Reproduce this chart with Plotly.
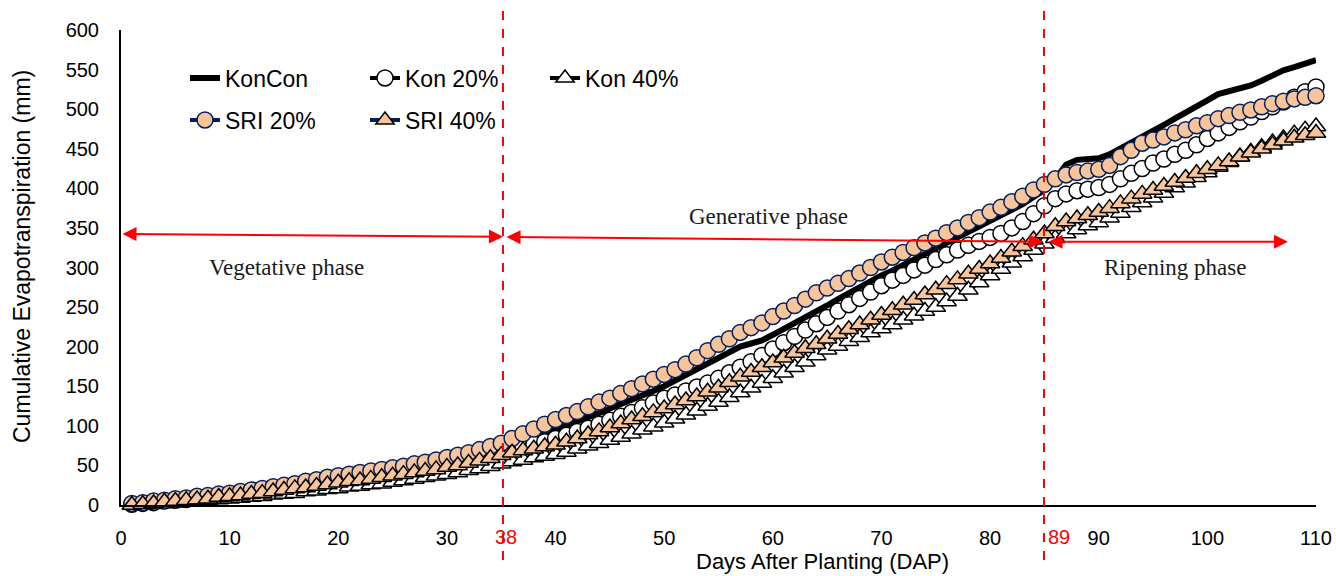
import plotly.graph_objects as go

# ---------------- data ----------------
days = list(range(1, 111))

kon_con = [1, 2, 4, 5, 7, 8, 10, 11, 13, 14,
           16, 18, 20, 21, 23, 25, 28, 30, 32, 34,
           36, 38, 40, 42, 44, 46, 49, 51, 53, 56,
           59, 62, 65, 68, 72, 76, 81, 85, 90, 95,
           100, 105, 111, 116, 122, 127, 133, 138, 144, 150,
           157, 164, 171, 178, 185, 192, 200, 204, 208, 215,
           222, 229, 236, 243, 252, 260, 268, 275, 283, 290,
           296, 303, 309, 316, 322, 329, 336, 343, 350, 357,
           364, 372, 380, 389, 398, 412, 430, 436, 437, 438,
           443, 450, 458, 465, 473, 480, 488, 495, 503, 511,
           519, 523, 526, 530, 536, 543, 549, 553, 558, 562]

kon_20 = [1, 2, 3, 5, 6, 7, 9, 10, 12, 13,
          15, 17, 18, 20, 22, 24, 26, 28, 30, 32,
          34, 36, 37, 39, 41, 43, 46, 48, 50, 53,
          55, 58, 61, 64, 68, 71, 74, 77, 80, 84,
          88, 93, 97, 102, 107, 112, 117, 123, 129, 135,
          139, 144, 149, 154, 160, 167, 174, 181, 189, 197,
          205, 213, 221, 229, 237, 245, 253, 261, 269, 277,
          284, 290, 297, 303, 310, 316, 322, 328, 333, 338,
          343, 350, 358, 368, 378, 387, 393, 397, 399, 401,
          405, 412, 419, 425, 432, 437, 443, 448, 455, 463,
          470, 477, 484, 490, 497, 503, 509, 515, 522, 528]

kon_40 = [-1, 0, 1, 2, 3, 4, 5, 6, 7, 8,
          9, 10, 11, 13, 14, 15, 17, 18, 20, 21,
          23, 24, 26, 27, 29, 31, 33, 35, 37, 39,
          41, 44, 46, 49, 52, 55, 57, 60, 62, 64,
          67, 71, 75, 78, 82, 86, 90, 95, 99, 104,
          109, 114, 119, 125, 130, 136, 142, 148, 154, 160,
          167, 174, 181, 189, 196, 201, 207, 212, 218, 223,
          228, 234, 239, 245, 250, 257, 264, 272, 281, 290,
          298, 306, 314, 322, 330, 337, 343, 348, 353, 357,
          363, 369, 376, 382, 388, 394, 401, 407, 414, 420,
          427, 433, 440, 446, 452, 458, 463, 469, 474, 478]

sri_20 = [2, 3, 5, 6, 8, 9, 11, 12, 14, 15,
          17, 19, 21, 23, 25, 27, 30, 32, 35, 37,
          39, 41, 43, 45, 47, 49, 52, 54, 57, 60,
          63, 66, 70, 74, 78, 84, 90, 96, 102, 108,
          113, 118, 124, 130, 135, 141, 147, 153, 159, 165,
          171, 178, 186, 195, 203, 210, 218, 224, 230, 238,
          245, 252, 260, 268, 274, 280, 286, 293, 300, 307,
          313, 319, 325, 331, 337, 344, 350, 357, 363, 370,
          376, 383, 390, 398, 405, 412, 417, 420, 422, 424,
          429, 440, 448, 457, 461, 465, 470, 474, 479, 483,
          488, 492, 496, 499, 503, 507, 510, 513, 515, 517]

sri_40 = [0, 1, 2, 4, 5, 6, 7, 8, 10, 11,
          12, 14, 15, 17, 19, 21, 22, 24, 26, 28,
          30, 31, 33, 35, 37, 39, 41, 43, 45, 48,
          50, 53, 56, 59, 63, 66, 69, 71, 74, 76,
          80, 84, 89, 93, 98, 103, 108, 112, 117, 122,
          127, 132, 137, 143, 148, 155, 162, 168, 174, 180,
          186, 192, 198, 203, 210, 216, 222, 228, 234, 240,
          246, 253, 259, 266, 272, 279, 285, 292, 298, 305,
          312, 320, 327, 335, 343, 352, 358, 362, 366, 370,
          375, 381, 387, 393, 398, 403, 408, 413, 419, 424,
          429, 434, 440, 445, 450, 455, 460, 464, 467, 470]

x_ticks = list(range(0, 111, 10))
y_ticks = list(range(0, 601, 50))

# phase boundaries (as drawn on the x axis) and their labels
phase_lines = [35.16, 84.96]
phase_line_labels = ["38", "89"]
phase_label_offsets = [0.25, 1.4]
phase_names = ["Vegetative phase", "Generative phase", "Ripening phase"]

# ---------------- styling ----------------
PEACH = "#F8C499"
NAVY = "#002060"
RED = "#FF0000"
SANS = "Liberation Sans, Arial, sans-serif"
SERIF = "Liberation Serif, Times New Roman, serif"

fig = go.Figure()

fig.add_trace(go.Scatter(
    x=days, y=kon_con, name="KonCon", mode="lines",
    line=dict(color="black", width=6), legend="legend", cliponaxis=False))
fig.add_trace(go.Scatter(
    x=days, y=kon_20, name="Kon 20%", mode="lines+markers",
    line=dict(color="black", width=4),
    marker=dict(symbol="circle", size=16, color="white",
                line=dict(color="black", width=1.5)),
    legend="legend", cliponaxis=False))
fig.add_trace(go.Scatter(
    x=days, y=kon_40, name="Kon 40%", mode="lines+markers",
    line=dict(color="black", width=4),
    marker=dict(symbol="triangle-up", size=17, color="white",
                line=dict(color="black", width=1.5)),
    legend="legend", cliponaxis=False))
fig.add_trace(go.Scatter(
    x=days, y=sri_20, name="SRI 20%", mode="lines+markers",
    line=dict(color=NAVY, width=4),
    marker=dict(symbol="circle", size=16, color=PEACH,
                line=dict(color=NAVY, width=1.5)),
    legend="legend2", cliponaxis=False))
fig.add_trace(go.Scatter(
    x=days, y=sri_40, name="SRI 40%", mode="lines+markers",
    line=dict(color=NAVY, width=4),
    marker=dict(symbol="triangle-up", size=17, color=PEACH,
                line=dict(color="black", width=1.5)),
    legend="legend2", cliponaxis=False))

# ---------------- geometry helpers (pixel layout of the plot area) ----------------
L, R, T, B = 121, 20, 30, 71
W, H = 1336, 576
plot_h = H - T - B
plot_w = W - L - R


def py_to_paper(py):
    return (H - B - py) / plot_h


def px_to_paper(px):
    return (px - L) / plot_w


# dashed phase boundaries
for xv in phase_lines:
    fig.add_shape(type="line", xref="x", yref="paper",
                  x0=xv, x1=xv, y0=py_to_paper(560), y1=py_to_paper(10),
                  line=dict(color=RED, width=2, dash="dash"))

# red labels beside the boundaries on the x axis
for xv, lab, off in zip(phase_lines, phase_line_labels, phase_label_offsets):
    fig.add_annotation(x=xv + off, xref="x", y=py_to_paper(537), yref="paper",
                       text=lab, showarrow=False, xanchor="center", yanchor="middle",
                       font=dict(family=SANS, size=20, color=RED))

# double-headed phase arrows
arrows = [
    ((0.0, 342.3), (35.16, 338.9)),
    ((35.35, 338.5), (84.87, 332.6)),
    ((85.24, 332.6), (107.42, 332.6)),
]
for (x0, y0), (x1, y1) in arrows:
    fig.add_annotation(x=x1, y=y1, ax=x0, ay=y0, xref="x", yref="y",
                       axref="x", ayref="y", text="", showarrow=True,
                       arrowhead=2, arrowsize=1.4, arrowwidth=2, arrowcolor=RED,
                       arrowside="end+start", startarrowhead=2, startarrowsize=1.4,
                       standoff=0, startstandoff=0)

# phase names
for name, (px, py) in zip(phase_names, [(286, 267), (769, 216), (1175, 267)]):
    fig.add_annotation(x=px_to_paper(px), xref="paper", y=py_to_paper(py), yref="paper",
                       text=name, showarrow=False, xanchor="center", yanchor="middle",
                       font=dict(family=SERIF, size=23, color="#1a1a1a"))

# axis titles
fig.add_annotation(x=px_to_paper(22), xref="paper", y=py_to_paper(257), yref="paper",
                   text="Cumulative Evapotranspiration (mm)", textangle=-90, showarrow=False,
                   xanchor="center", yanchor="middle",
                   font=dict(family=SANS, size=23, color="black"))
fig.add_annotation(x=px_to_paper(822), xref="paper", y=py_to_paper(561), yref="paper",
                   text="Days After Planting (DAP)", showarrow=False,
                   xanchor="center", yanchor="middle",
                   font=dict(family=SANS, size=22, color="black"))

legend_common = dict(orientation="h", xanchor="left", yanchor="middle",
                     bgcolor="rgba(0,0,0,0)", font=dict(family=SANS, size=23, color="black"),
                     entrywidth=135, entrywidthmode="pixels", traceorder="normal")

fig.update_layout(
    width=W, height=H,
    margin=dict(l=L, r=R, t=T, b=B, autoexpand=False),
    paper_bgcolor="white", plot_bgcolor="white",
    font=dict(family=SANS, size=20, color="black"),
    showlegend=True,
    legend=dict(x=px_to_paper(185), y=py_to_paper(78), **legend_common),
    legend2=dict(x=px_to_paper(185), y=py_to_paper(120), **legend_common),
    xaxis=dict(range=[0, 110], tickvals=x_ticks, showgrid=False, zeroline=False,
               showline=True, linecolor="black", linewidth=1.5, ticks="",
               ticklabelstandoff=14, tickfont=dict(family=SANS, size=20, color="black")),
    yaxis=dict(range=[0, 600], tickvals=y_ticks, showgrid=False, zeroline=False,
               showline=True, linecolor="black", linewidth=2, ticks="",
               ticklabelstandoff=16, tickfont=dict(family=SANS, size=20, color="black")),
)

fig.write_html("out.html", config={"displayModeBar": False},
               post_script="document.body.style.margin='0px';")
